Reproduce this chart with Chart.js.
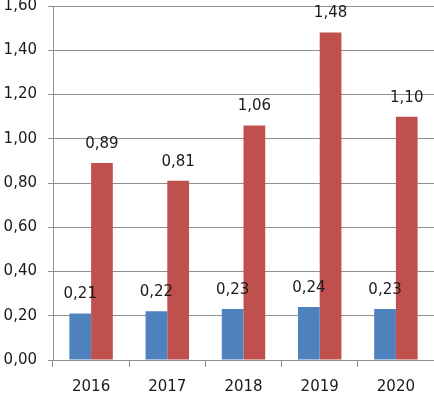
<!DOCTYPE html>
<html>
<head>
<meta charset="utf-8">
<script src="https://cdn.jsdelivr.net/npm/chart.js@4/dist/chart.umd.min.js"></script>
<style>
html,body{margin:0;padding:0;background:#fff;}
#wrap{width:434px;height:393px;}
</style>
</head>
<body>
<div id="wrap"><canvas id="c" width="434" height="393"></canvas></div>
<script>
const categories = ['2016', '2017', '2018', '2019', '2020'];
const seriesBlue = [0.21, 0.22, 0.23, 0.24, 0.23];
const seriesRed = [0.89, 0.81, 1.06, 1.48, 1.10];
const yTicks = [0, 0.2, 0.4, 0.6, 0.8, 1.0, 1.2, 1.4, 1.6];

const fmt = v => Number(v).toFixed(2).replace('.', ',');
const FONT = "'DejaVu Sans', sans-serif";

const labelPlugin = {
  id: 'valueLabels',
  afterDatasetsDraw(chart) {
    const ctx = chart.ctx;
    ctx.save();
    ctx.font = '15px ' + FONT;
    ctx.fillStyle = '#1a1a1a';
    ctx.textAlign = 'center';
    ctx.textBaseline = 'middle';
    chart.data.datasets.forEach((ds, i) => {
      const meta = chart.getDatasetMeta(i);
      meta.data.forEach((bar, j) => {
        ctx.fillText(fmt(ds.data[j]), bar.x, bar.y - 19);
      });
    });
    ctx.restore();
  }
};

new Chart(document.getElementById('c'), {
  type: 'bar',
  data: {
    labels: categories,
    datasets: [
      { data: seriesBlue, backgroundColor: '#4F81BD', borderWidth: 0 },
      { data: seriesRed, backgroundColor: '#C0504D', borderWidth: 0 }
    ]
  },
  options: {
    responsive: false,
    animation: false,
    devicePixelRatio: 1,
    layout: { padding: { top: 6, right: 0, left: 0, bottom: 0 } },
    datasets: { bar: { categoryPercentage: 0.57, barPercentage: 1.0 } },
    plugins: { legend: { display: false }, tooltip: { enabled: false } },
    scales: {
      x: {
        afterFit(scale) { scale.height = 33; scale.paddingLeft = 0; scale.paddingRight = 0; },
        grid: { offset: true, drawOnChartArea: false, drawTicks: true, tickLength: 7, color: '#909090' },
        border: { display: true, color: '#909090' },
        ticks: { color: '#1a1a1a', font: { family: FONT, size: 15 }, padding: 11 }
      },
      y: {
        min: 0, max: 1.6,
        afterFit(scale) { scale.width = 53; scale.paddingTop = 0; scale.paddingBottom = 0; },
        afterBuildTicks(scale) { scale.ticks = yTicks.map(v => ({ value: v })); },
        grid: { color: '#909090', tickLength: 5 },
        border: { display: true, color: '#909090' },
        ticks: { color: '#1a1a1a', font: { family: FONT, size: 15 }, padding: 11, callback: v => fmt(v) }
      }
    }
  },
  plugins: [labelPlugin]
});
</script>
</body>
</html>
